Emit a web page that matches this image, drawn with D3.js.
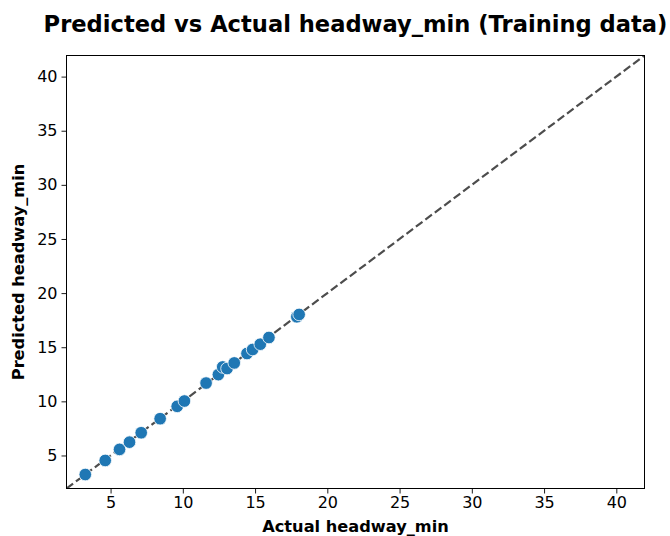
<!DOCTYPE html>
<html>
<head>
<meta charset="utf-8">
<script src="https://cdn.jsdelivr.net/npm/d3@7"></script>
<style>
  body { margin: 0; background: #fff; }
  svg { font-family: "DejaVu Sans", sans-serif; }
</style>
</head>
<body>
<div id="chart"></div>
<script>
const actual    = [3.25, 4.63, 5.62, 6.31, 7.12, 8.43, 9.61, 10.11, 11.61, 12.46, 12.76, 13.06, 13.56, 14.44, 14.83, 15.36, 15.96, 17.89, 18.05];
const predicted = [3.24, 4.54, 5.56, 6.23, 7.10, 8.40, 9.54, 10.03, 11.69, 12.47, 13.18, 13.03, 13.55, 14.42, 14.79, 15.28, 15.90, 17.81, 18.03];
const ticks = [5, 10, 15, 20, 25, 30, 35, 40];
const domain = [1.95, 41.95];

const W = 670, H = 536;
const margin = {top: 55.5, right: 25.5, bottom: 47.5, left: 66.5};
const w = W - margin.left - margin.right;
const h = H - margin.top - margin.bottom;

const svg = d3.select('#chart').append('svg')
  .attr('width', W)
  .attr('height', H);

svg.append('defs').append('clipPath')
  .attr('id', 'clip')
  .append('rect')
  .attr('width', w)
  .attr('height', h);

const g = svg.append('g')
  .attr('transform', `translate(${margin.left},${margin.top})`);

const x = d3.scaleLinear().domain(domain).range([0, w]);
const y = d3.scaleLinear().domain(domain).range([h, 0]);

const pts = actual.map((a, i) => ({a, p: predicted[i]}));

// perfect-prediction line
g.append('line')
  .attr('clip-path', 'url(#clip)')
  .attr('x1', x(domain[0])).attr('y1', y(domain[0]))
  .attr('x2', x(domain[1])).attr('y2', y(domain[1]))
  .attr('stroke', '#4d4d4d')
  .attr('stroke-width', 2.2)
  .attr('stroke-dasharray', '8.2,3.6');

g.selectAll('.dot')
  .data(pts)
  .enter().append('circle')
  .attr('class', 'dot')
  .attr('cx', d => x(d.a))
  .attr('cy', d => y(d.p))
  .attr('r', 6.3)
  .attr('fill', '#1f77b4')
  .attr('stroke', '#fff')
  .attr('stroke-width', 0.8);

const xAxis = g.append('g')
  .attr('transform', `translate(0,${h})`)
  .call(d3.axisBottom(x).tickValues(ticks).tickSize(5).tickPadding(3));
const yAxis = g.append('g')
  .call(d3.axisLeft(y).tickValues(ticks).tickSize(5).tickPadding(4));

[xAxis, yAxis].forEach(ax => {
  ax.select('.domain').remove();
  ax.selectAll('line').attr('stroke', '#000').attr('stroke-width', 0.9);
  ax.selectAll('text')
    .attr('font-family', '"DejaVu Sans", sans-serif')
    .attr('font-size', 16)
    .attr('fill', '#000');
});

g.append('rect')
  .attr('width', w)
  .attr('height', h)
  .attr('fill', 'none')
  .attr('stroke', '#000')
  .attr('stroke-width', 1);

svg.append('text')
  .attr('x', margin.left + w / 2)
  .attr('y', 32)
  .attr('text-anchor', 'middle')
  .attr('font-weight', 'bold')
  .attr('font-size', 22.6)
  .text('Predicted vs Actual headway_min (Training data)');

svg.append('text')
  .attr('x', margin.left + w / 2)
  .attr('y', 532)
  .attr('text-anchor', 'middle')
  .attr('font-weight', 'bold')
  .attr('font-size', 16.2)
  .text('Actual headway_min');

svg.append('text')
  .attr('transform', `translate(24,${margin.top + h / 2}) rotate(-90)`)
  .attr('text-anchor', 'middle')
  .attr('font-weight', 'bold')
  .attr('font-size', 16.2)
  .text('Predicted headway_min');
</script>
</body>
</html>
